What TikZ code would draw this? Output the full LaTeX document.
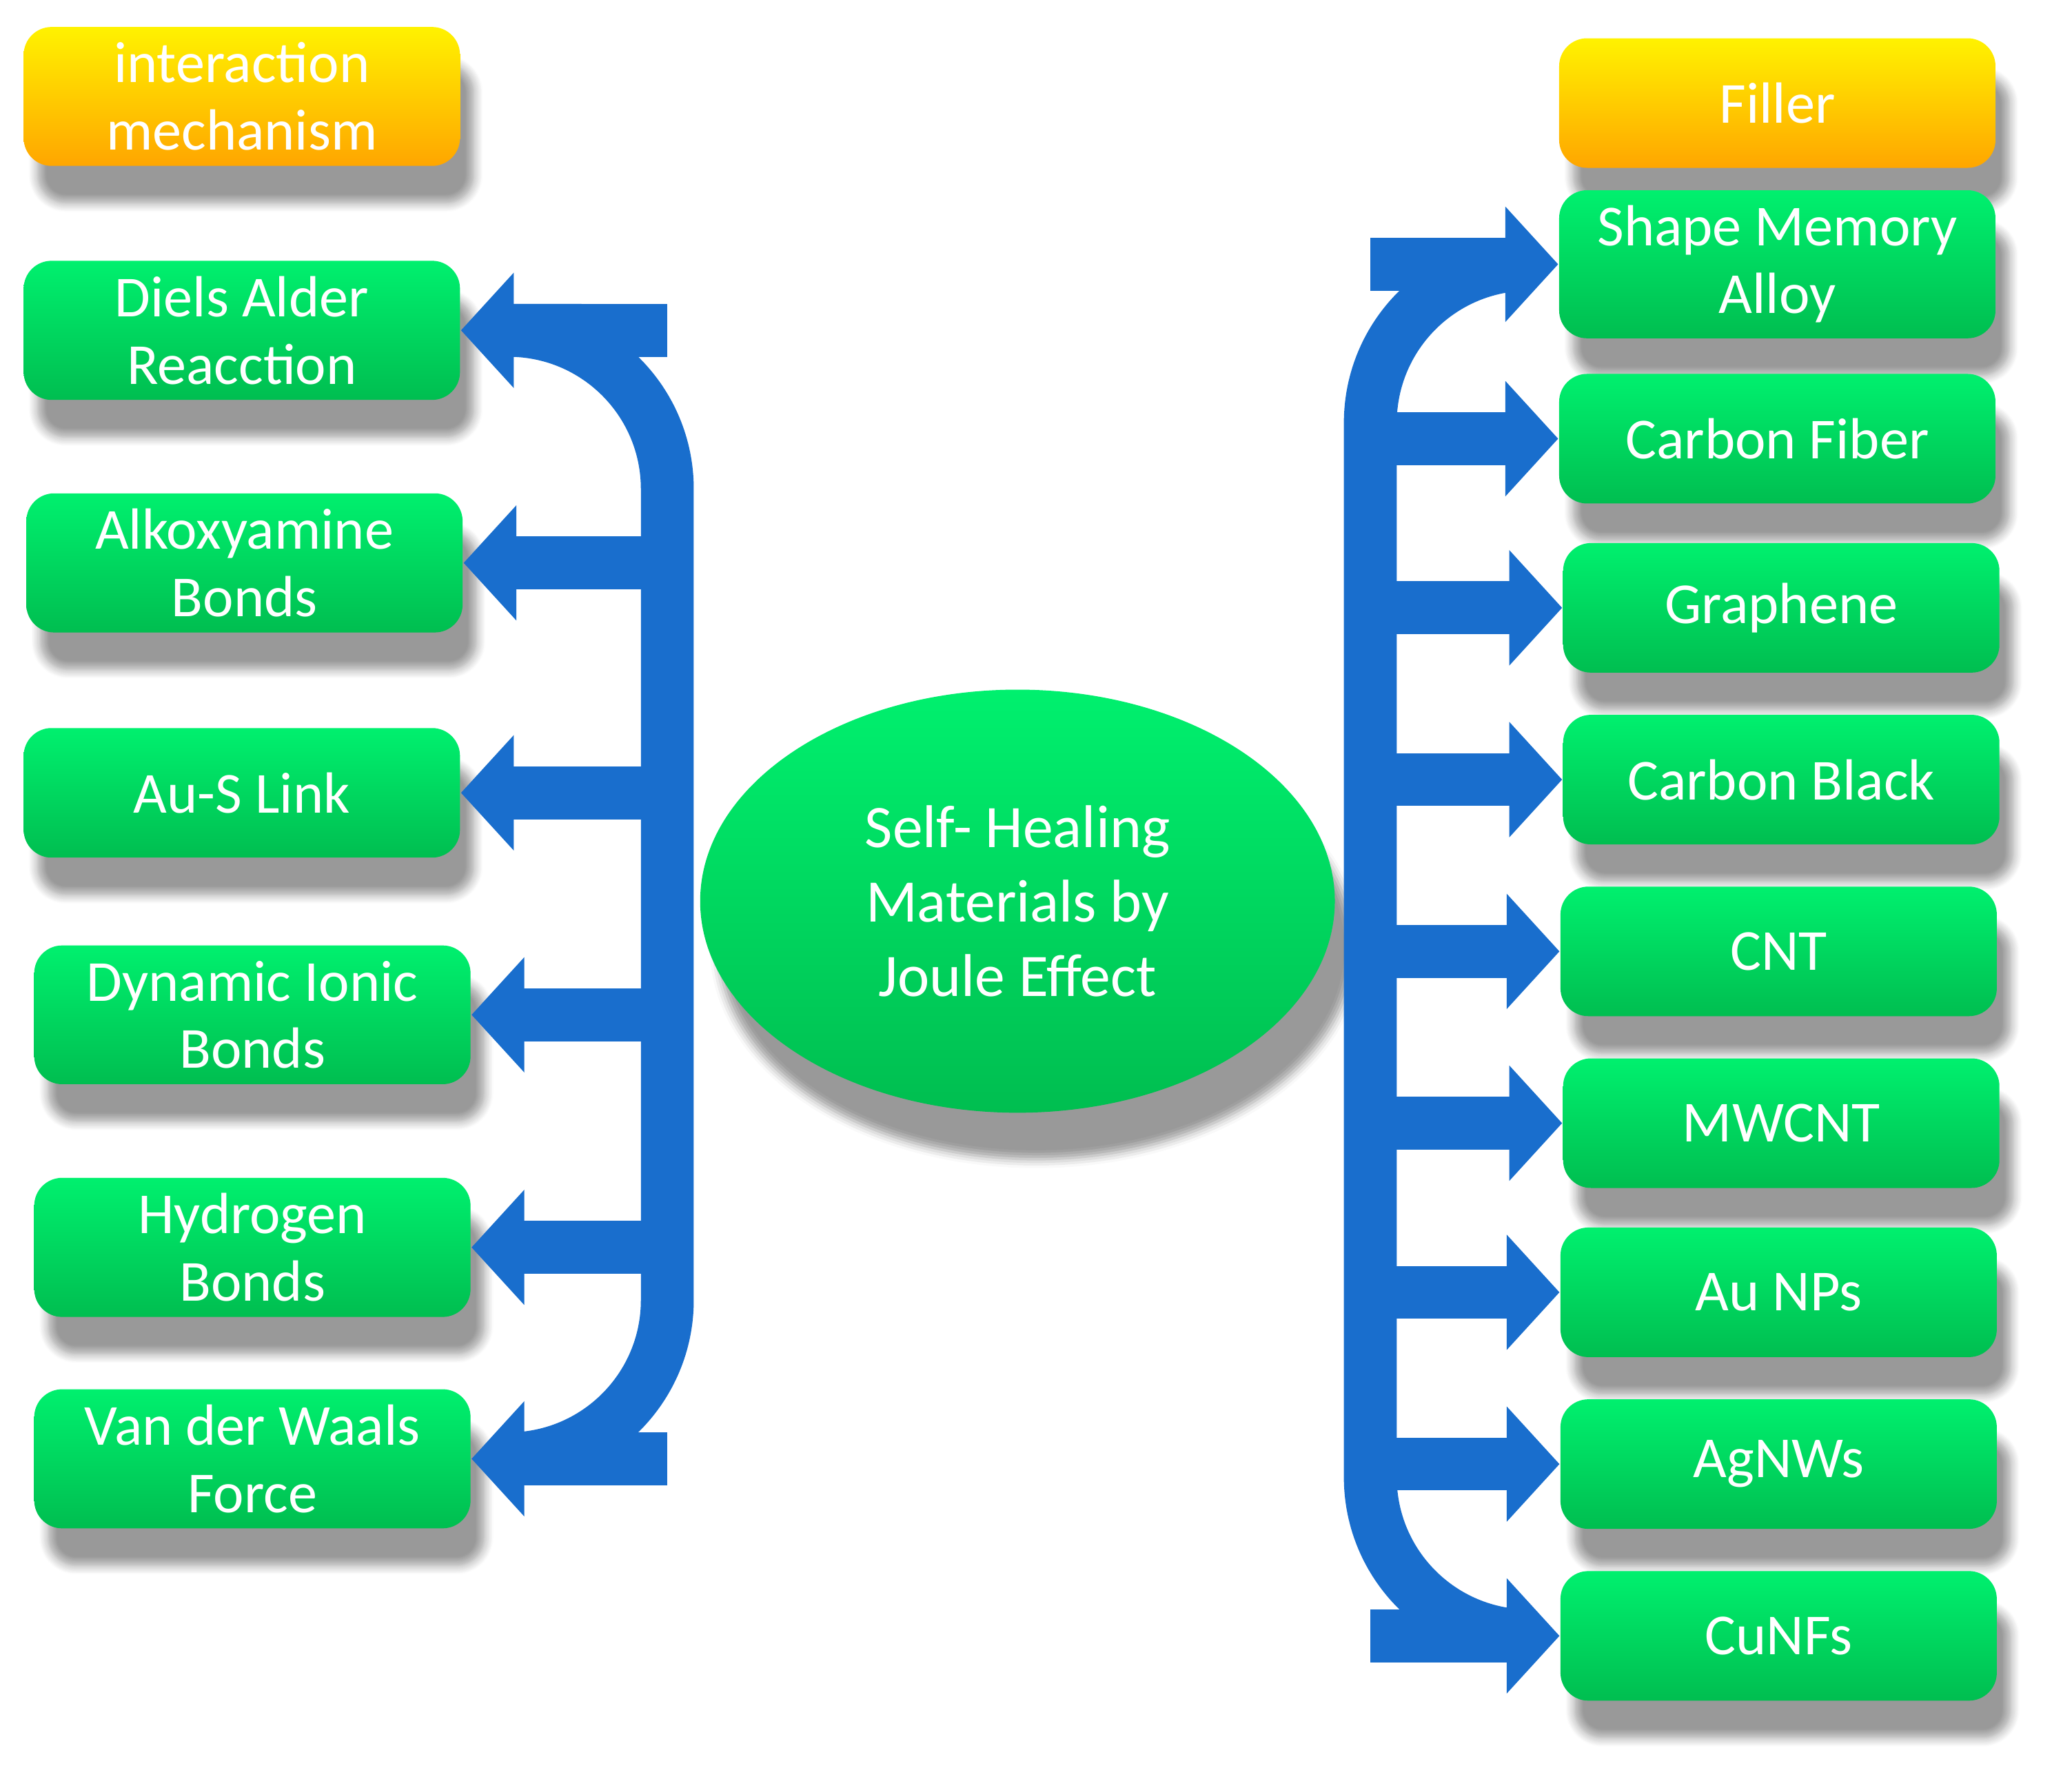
\documentclass[tikz,border=0pt]{standalone}
\usepackage{fontspec}
\setmainfont{Carlito}
\usetikzlibrary{arrows.meta,shadows.blur,shapes.geometric}
\definecolor{boxgreen}{RGB}{0,190,80}
\definecolor{boxtop}{RGB}{0,240,110}
\definecolor{flowblue}{RGB}{25,110,205}
\tikzset{
  box/.style={rectangle, rounded corners=6pt, minimum width=3.3cm, minimum height=0.98cm,
    top color=boxtop, bottom color=boxgreen, text=white, align=center,
    font=\fontsize{12.5}{14.5}\selectfont, blur shadow={shadow xshift=3pt, shadow yshift=-8pt, shadow blur steps=8}},
  head/.style={box, top color=yellow!90!orange, bottom color=orange!70!yellow},
  flow/.style={draw=flowblue, line width=4mm, -{Triangle[length=4mm,width=8.5mm]}},
  bar/.style={draw=flowblue, line width=4mm, rounded corners=12mm}
}
\begin{document}
\begin{tikzpicture}[x=0.01cm,y=-0.01cm]
  \useasboundingbox (0,0) rectangle (1568,1346);
    % Left column
  \node[head] (mech) at (183,73) {interaction\\mechanism};
  \node[box] (diels) at (183,250) {Diels Alder\\Reacction};
  \node[box] (alkoxy) at (185,426) {Alkoxyamine\\Bonds};
  \node[box] (aus) at (183,600) {Au-S Link};
  \node[box] (ionic) at (191,768) {Dynamic Ionic\\Bonds};
  \node[box] (hydrogen) at (191,944) {Hydrogen\\Bonds};
  \node[box] (vdw) at (191,1104) {Van der Waals\\Force};

    % Right column
  \node[head] (filler) at (1345,78) {Filler};
  \node[box] (sma) at (1345,200) {Shape Memory\\Alloy};
  \node[box] (cf) at (1345,332) {Carbon Fiber};
  \node[box] (graphene) at (1348,460) {Graphene};
  \node[box] (cb) at (1348,590) {Carbon Black};
  \node[box] (cnt) at (1346,720) {CNT};
  \node[box] (mwcnt) at (1348,850) {MWCNT};
  \node[box] (aunp) at (1346,978) {Au NPs};
  \node[box] (agnw) at (1346,1108) {AgNWs};
  \node[box] (cunf) at (1346,1238) {CuNFs};

    % Centre
  \node[ellipse, minimum width=4.8cm, minimum height=3.2cm, top color=boxtop, bottom color=boxgreen,
    text=white, align=center, font=\fontsize{13}{16}\selectfont,
    blur shadow={shadow xshift=4pt, shadow yshift=-10pt}] (center) at (770,682)
    {Self- Healing\\Materials by\\Joule Effect};

    % Left bars
  \coordinate (ltop) at (505,250);
  \coordinate (lbot) at (505,1104);
  \draw[bar] (440,250) -| (lbot) -- (440,1104);
  \draw[flow] (ltop) -- (diels.east);
  \draw[flow] (505,426) -- (alkoxy.east);
  \draw[flow] (505,600) -- (aus.east);
  \draw[flow] (505,768) -- (ionic.east);
  \draw[flow] (505,944) -- (hydrogen.east);
  \draw[flow] (lbot) -- (vdw.east);

    % Right bars
  \coordinate (rtop) at (1037,200);
  \coordinate (rbot) at (1037,1238);
  \draw[bar] (1100,200) -| (rbot) -- (1100,1238);
  \draw[flow] (rtop) -- (sma.west);
  \draw[flow] (1037,332) -- (cf.west);
  \draw[flow] (1037,460) -- (graphene.west);
  \draw[flow] (1037,590) -- (cb.west);
  \draw[flow] (1037,720) -- (cnt.west);
  \draw[flow] (1037,850) -- (mwcnt.west);
  \draw[flow] (1037,978) -- (aunp.west);
  \draw[flow] (1037,1108) -- (agnw.west);
  \draw[flow] (rbot) -- (cunf.west);
\end{tikzpicture}
\end{document}
